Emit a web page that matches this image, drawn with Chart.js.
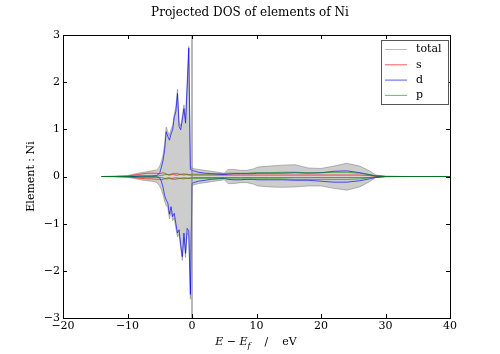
<!DOCTYPE html>
<html>
<head>
<meta charset="utf-8">
<title>Projected DOS of elements of Ni</title>
<script src="https://cdn.jsdelivr.net/npm/chart.js@4.4.0/dist/chart.umd.min.js"></script>
<style>
    html, body { margin: 0; padding: 0; background: #ffffff; }
    #wrap { width: 500px; height: 354px; }
</style>
</head>
<body>
<div id="wrap"><canvas id="dosChart" width="500" height="354"></canvas></div>
<script>
// energy grid (E - Ef, eV)
const energies = [-14, -12, -10, -9, -8, -7, -6.25,
    -5.5, -5.25, -5, -4.75, -4.5, -4.25, -4, -3.75, -3.5, -3.25, -3, -2.75, -2.5, -2.25, -2, -1.75, -1.5, -1.25, -1, -0.75, -0.5, -0.25, 0, 0.25, 0.5,
    1, 2, 3, 4, 5, 5.6, 6.5, 7.5, 8.5, 9.5, 10.2, 12, 14, 16, 18, 20, 22, 24, 26, 27.5, 28.5, 30, 33, 40];

// spin up (positive) / spin down (negative)
const totalUp = [0, 0.01, 0.02, 0.05, 0.08, 0.1, 0.12,
    0.14, 0.17, 0.22, 0.32, 0.45, 0.68, 1.05, 0.95, 0.87, 1.0, 1.08, 1.32, 1.48, 1.85, 1.15, 1.07, 1.28, 1.52, 1.22, 2.0, 2.76, 0.2, 0.18, 0.17, 0.16,
    0.15, 0.13, 0.11, 0.09, 0.07, 0.15, 0.15, 0.13, 0.13, 0.16, 0.2, 0.22, 0.24, 0.25, 0.18, 0.17, 0.22, 0.28, 0.22, 0.12, 0.03, 0.01, 0, 0];
const totalDown = [0, -0.01, -0.02, -0.04, -0.07, -0.09, -0.1,
    -0.12, -0.16, -0.2, -0.28, -0.38, -0.52, -0.62, -0.66, -0.9, -0.74, -0.94, -0.88, -1.1, -1.28, -1.22, -1.52, -1.78, -1.3, -1.72, -1.2, -1.26, -2.6, -0.2, -0.18, -0.17,
    -0.15, -0.13, -0.11, -0.09, -0.07, -0.15, -0.15, -0.13, -0.13, -0.16, -0.2, -0.22, -0.23, -0.22, -0.2, -0.2, -0.25, -0.29, -0.22, -0.11, -0.02, -0.01, 0, 0];

const sUp = [0, 0, 0.01, 0.03, 0.05, 0.07, 0.07,
    0.07, 0.06, 0.06, 0.07, 0.08, 0.07, 0.05, 0.04, 0.04, 0.05, 0.05, 0.04, 0.03, 0.03, 0.04, 0.05, 0.04, 0.03, 0.04, 0.05, 0.04, 0.03, 0.03, 0.03, 0.03,
    0.03, 0.03, 0.03, 0.03, 0.03, 0.03, 0.03, 0.03, 0.03, 0.03, 0.03, 0.03, 0.03, 0.03, 0.03, 0.03, 0.03, 0.03, 0.03, 0.02, 0.01, 0, 0, 0];
const sDown = [0, 0, -0.01, -0.02, -0.04, -0.05, -0.05,
    -0.06, -0.06, -0.06, -0.07, -0.06, -0.05, -0.04, -0.03, -0.03, -0.04, -0.04, -0.03, -0.03, -0.03, -0.04, -0.04, -0.03, -0.03, -0.03, -0.04, -0.04, -0.03, -0.02, -0.02, -0.02,
    -0.02, -0.02, -0.02, -0.02, -0.02, -0.02, -0.02, -0.02, -0.02, -0.02, -0.02, -0.02, -0.02, -0.02, -0.02, -0.02, -0.02, -0.02, -0.02, -0.02, -0.01, 0, 0, 0];

const dUp = [0, 0, 0, 0, 0.01, 0.01, 0.01,
    0.02, 0.04, 0.08, 0.2, 0.33, 0.55, 0.95, 0.85, 0.77, 0.9, 0.99, 1.25, 1.38, 1.76, 1.06, 0.99, 1.2, 1.44, 1.13, 1.9, 2.72, 0.15, 0.13, 0.12, 0.11,
    0.09, 0.07, 0.06, 0.05, 0.04, 0.05, 0.06, 0.06, 0.06, 0.06, 0.07, 0.07, 0.07, 0.08, 0.07, 0.08, 0.11, 0.12, 0.08, 0.04, 0.01, 0, 0, 0];
const dDown = [0, 0, 0, 0, -0.01, -0.01, -0.01,
    -0.01, -0.02, -0.03, -0.1, -0.22, -0.4, -0.5, -0.56, -0.8, -0.64, -0.85, -0.78, -1.0, -1.2, -1.13, -1.45, -1.7, -1.2, -1.63, -1.1, -1.15, -2.5, -0.15, -0.13, -0.12,
    -0.1, -0.08, -0.06, -0.05, -0.04, -0.06, -0.07, -0.07, -0.06, -0.06, -0.07, -0.07, -0.07, -0.08, -0.08, -0.1, -0.12, -0.12, -0.09, -0.05, -0.02, 0, 0, 0];

const pUp = [0, 0, 0, 0.01, 0.01, 0.01, 0.01,
    0.01, 0.01, 0.02, 0.02, 0.03, 0.04, 0.05, 0.04, 0.03, 0.04, 0.06, 0.07, 0.06, 0.07, 0.05, 0.04, 0.05, 0.06, 0.05, 0.04, 0.03, 0.04, 0.05, 0.05, 0.05,
    0.05, 0.05, 0.05, 0.06, 0.06, 0.07, 0.07, 0.07, 0.07, 0.08, 0.08, 0.08, 0.09, 0.09, 0.08, 0.08, 0.09, 0.09, 0.07, 0.04, 0.01, 0, 0, 0];
const pDown = [0, 0, 0, -0.01, -0.01, -0.01, -0.01,
    -0.01, -0.01, -0.02, -0.02, -0.03, -0.04, -0.05, -0.05, -0.04, -0.05, -0.06, -0.06, -0.06, -0.05, -0.04, -0.04, -0.05, -0.05, -0.04, -0.04, -0.03, -0.04, -0.04, -0.04, -0.04,
    -0.04, -0.04, -0.04, -0.04, -0.04, -0.05, -0.05, -0.05, -0.05, -0.05, -0.05, -0.05, -0.05, -0.06, -0.06, -0.06, -0.06, -0.06, -0.05, -0.03, -0.01, 0, 0, 0];

// axes
const xTicks = [-20, -10, 0, 10, 20, 30, 40];
const yTicks = [-3, -2, -1, 0, 1, 2, 3];

const legendLabels = ['total', 's', 'd', 'p'];
const chartTitle = 'Projected DOS of elements of Ni';

const FONT = "'DejaVu Serif', 'Liberation Serif', serif";
const COLORS = {
    total: 'rgba(128, 128, 128, 0.55)',
    totalFill: '#cdcdcd',
    s: 'rgba(255, 0, 0, 0.65)',
    d: 'rgba(0, 0, 255, 0.65)',
    p: 'rgba(0, 140, 0, 0.6)'
};

function toPoints(values) {
    return energies.map((e, i) => ({ x: e, y: values[i] }));
}

function minusSign(v) {
    return String(v).replace('-', '\u2212');
}

function lineSet(label, values, color, order, fill) {
    return {
        label,
        data: toPoints(values),
        borderColor: color,
        backgroundColor: fill ? COLORS.totalFill : color,
        borderWidth: 1,
        pointRadius: 0,
        tension: 0,
        fill: fill ? 'origin' : false,
        order
    };
}

/**
 * title, frame, inward ticks, E=0 line, legend and x label (matplotlib look)
 */
const decorPlugin = {
    id: 'decor',
    afterDatasetsDraw(chart) {
        const { ctx, chartArea: a, scales } = chart;
        const x0 = Math.round(scales.x.getPixelForValue(0));
        ctx.save();
        ctx.strokeStyle = 'rgba(128, 128, 128, 0.75)';
        ctx.lineWidth = 1.5;
        ctx.beginPath();
        ctx.moveTo(x0, a.top);
        ctx.lineTo(x0, a.bottom);
        ctx.stroke();
        ctx.restore();
    },
    afterDraw(chart) {
        const { ctx, chartArea: a, scales } = chart;
        ctx.save();

        // title, centred on the whole figure
        ctx.fillStyle = '#000';
        ctx.font = '12px ' + FONT;
        ctx.textAlign = 'center';
        ctx.textBaseline = 'middle';
        ctx.fillText(chartTitle, 250, 13);

        // frame
        ctx.strokeStyle = '#000';
        ctx.lineWidth = 1;
        ctx.strokeRect(Math.round(a.left) + 0.5, Math.round(a.top) + 0.5,
            Math.round(a.right - a.left), Math.round(a.bottom - a.top));

        // inward ticks on all sides
        const tl = 4;
        ctx.beginPath();
        xTicks.forEach(v => {
            const px = Math.round(scales.x.getPixelForValue(v)) + 0.5;
            ctx.moveTo(px, a.bottom);
            ctx.lineTo(px, a.bottom - tl);
            ctx.moveTo(px, a.top);
            ctx.lineTo(px, a.top + tl);
        });
        yTicks.forEach(v => {
            const py = Math.round(scales.y.getPixelForValue(v)) + 0.5;
            ctx.moveTo(a.left, py);
            ctx.lineTo(a.left + tl, py);
            ctx.moveTo(a.right, py);
            ctx.lineTo(a.right - tl, py);
        });
        ctx.stroke();

        // legend box
        const lx = 381, ly = 40, lw = 67, lh = 64;
        ctx.fillStyle = '#fff';
        ctx.fillRect(lx, ly, lw, lh);
        ctx.strokeStyle = '#555';
        ctx.strokeRect(lx + 0.5, ly + 0.5, lw, lh);
        const legendColors = [COLORS.total, COLORS.s, COLORS.d, COLORS.p];
        ctx.font = '11px ' + FONT;
        ctx.textBaseline = 'middle';
        ctx.textAlign = 'left';
        legendLabels.forEach((label, i) => {
            const y = ly + 9.5 + i * 15.3;
            ctx.strokeStyle = legendColors[i];
            ctx.lineWidth = 1;
            ctx.beginPath();
            ctx.moveTo(lx + 4, y);
            ctx.lineTo(lx + 26, y);
            ctx.stroke();
            ctx.fillStyle = '#000';
            ctx.fillText(label, lx + 35, y);
        });

        // x axis label: E − E_f  /  eV
        const parts = [
            { t: 'E', f: 'italic 11px ' + FONT, dy: 0 },
            { t: ' \u2212 ', f: '11px ' + FONT, dy: 0 },
            { t: 'E', f: 'italic 11px ' + FONT, dy: 0 },
            { t: 'f', f: 'italic 8px ' + FONT, dy: 3 },
            { t: '    /    ', f: '11px ' + FONT, dy: 0 },
            { t: 'eV', f: '11px ' + FONT, dy: 0 }
        ];
        let total = 0;
        parts.forEach(p => { ctx.font = p.f; p.w = ctx.measureText(p.t).width; total += p.w; });
        let cx = 256 - total / 2;
        const baseY = 345;
        ctx.fillStyle = '#000';
        ctx.textBaseline = 'alphabetic';
        parts.forEach(p => {
            ctx.font = p.f;
            ctx.fillText(p.t, cx, baseY + p.dy);
            cx += p.w;
        });

        ctx.restore();
    }
};

function buildChart() {
    const ctx = document.getElementById('dosChart').getContext('2d');
    return new Chart(ctx, {
        type: 'line',
        data: {
            datasets: [
                lineSet('p', pUp, COLORS.p, 1, false),
                lineSet('p down', pDown, COLORS.p, 1, false),
                lineSet('d', dUp, COLORS.d, 2, false),
                lineSet('d down', dDown, COLORS.d, 2, false),
                lineSet('s', sUp, COLORS.s, 3, false),
                lineSet('s down', sDown, COLORS.s, 3, false),
                lineSet('total', totalUp, COLORS.total, 4, true),
                lineSet('total down', totalDown, COLORS.total, 4, true)
            ]
        },
        options: {
            responsive: false,
            animation: false,
            devicePixelRatio: 1,
            layout: { padding: { top: 35, right: 50, bottom: 0, left: 0 } },
            plugins: {
                legend: { display: false },
                tooltip: { enabled: false },
                title: { display: false }
            },
            scales: {
                x: {
                    type: 'linear',
                    min: -20,
                    max: 40,
                    afterBuildTicks: s => { s.ticks = xTicks.map(v => ({ value: v })); },
                    afterFit: s => { s.height = 36; },
                    grid: { display: false, drawTicks: false },
                    border: { display: false },
                    ticks: {
                        color: '#000',
                        padding: 2,
                        maxRotation: 0,
                        font: { family: FONT, size: 11 },
                        callback: v => minusSign(v)
                    }
                },
                y: {
                    min: -3,
                    max: 3,
                    afterBuildTicks: s => { s.ticks = yTicks.map(v => ({ value: v })); },
                    afterFit: s => { s.width = 63; },
                    grid: { display: false, drawTicks: false },
                    border: { display: false },
                    ticks: {
                        color: '#000',
                        padding: 3,
                        font: { family: FONT, size: 11 },
                        callback: v => minusSign(v)
                    },
                    title: {
                        display: true,
                        text: 'Element : Ni',
                        color: '#000',
                        font: { family: FONT, size: 11 },
                        padding: { top: 25, bottom: 0 }
                    }
                }
            }
        },
        plugins: [decorPlugin]
    });
}

document.addEventListener('DOMContentLoaded', buildChart);
</script>
</body>
</html>
